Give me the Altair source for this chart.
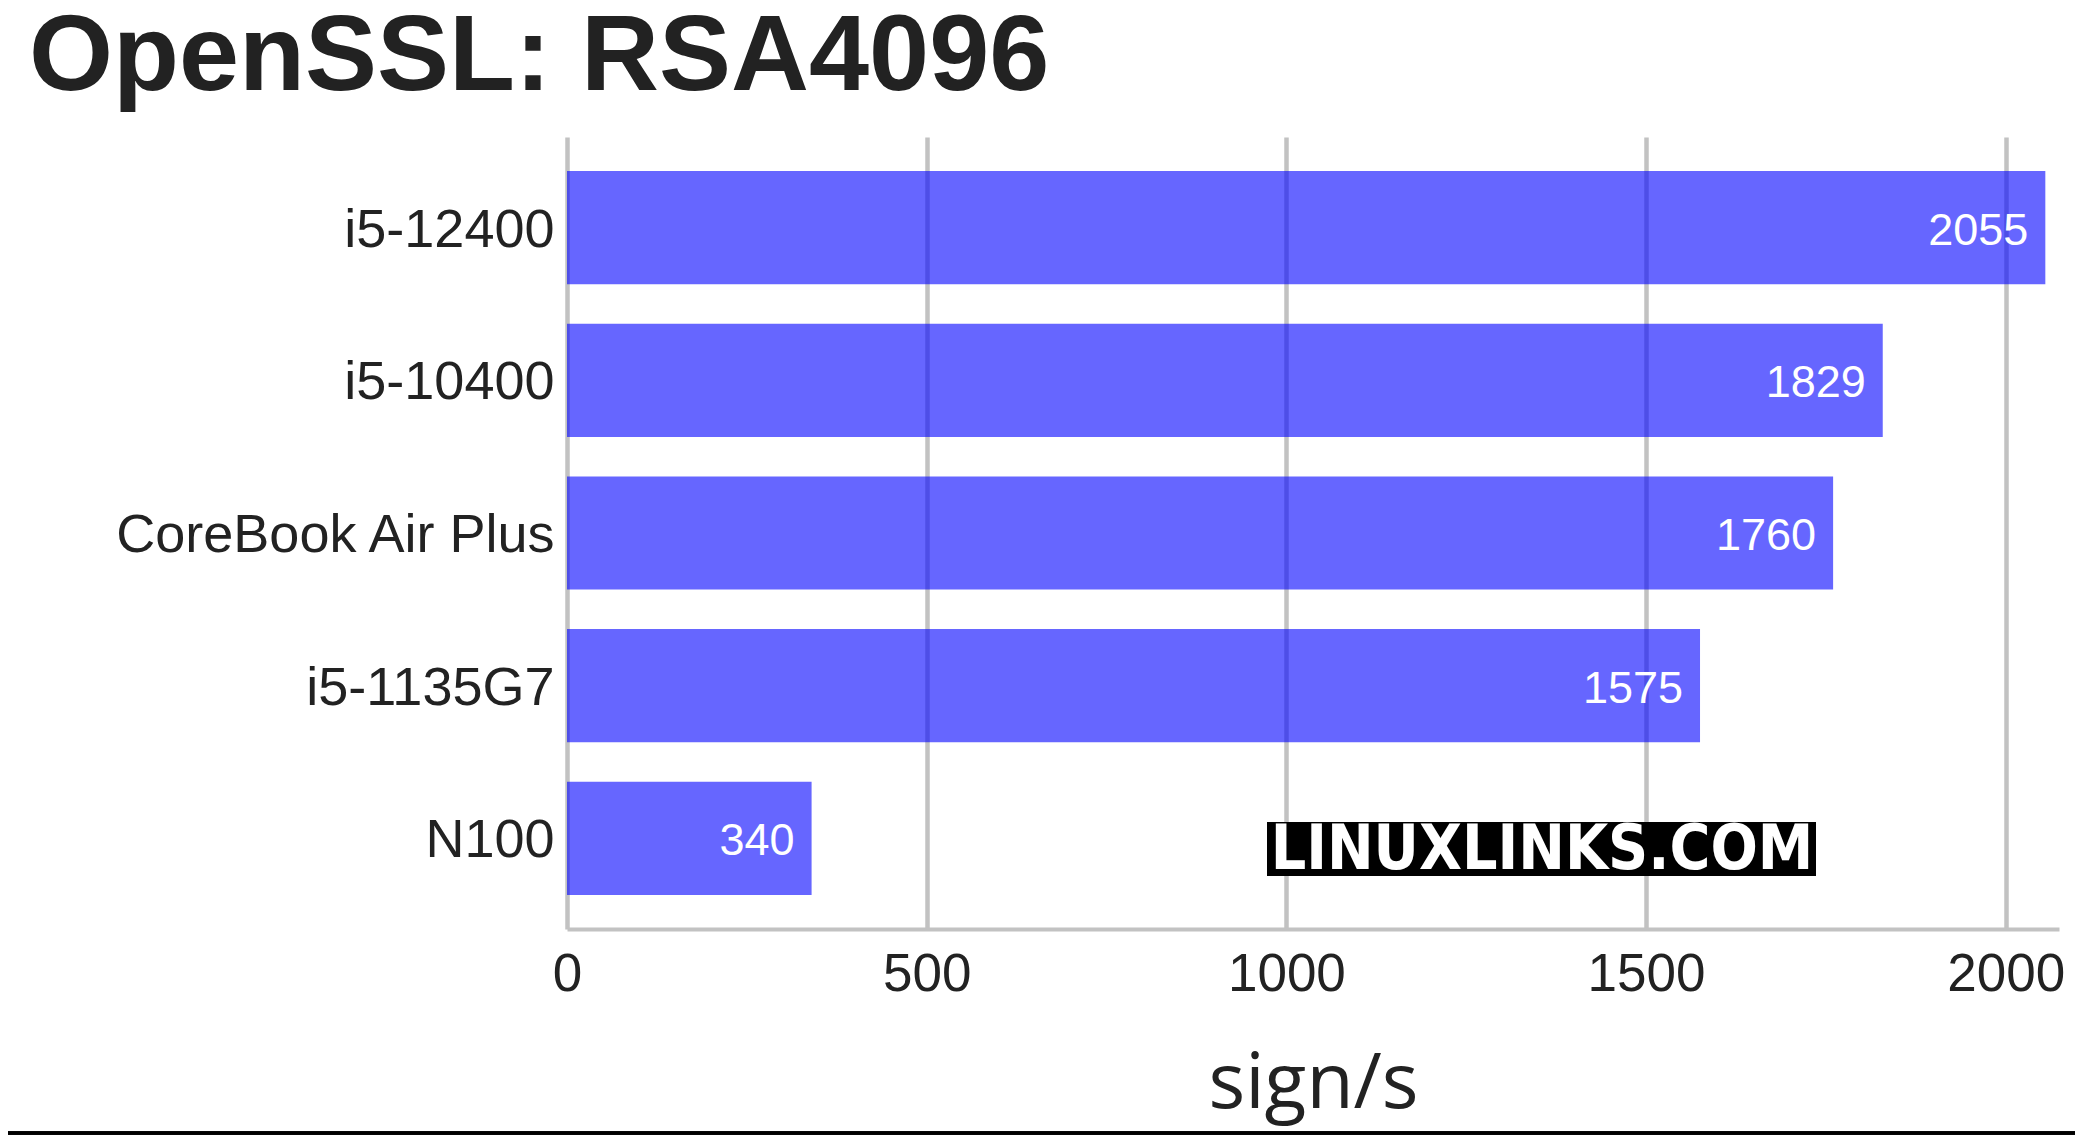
import altair as alt
import pandas as pd

cpus = ["i5-12400", "i5-10400", "CoreBook Air Plus", "i5-1135G7", "N100"]
values = [2055, 1829, 1760, 1575, 340]
x_ticks = [0, 500, 1000, 1500, 2000]

df = pd.DataFrame({"cpu": cpus, "value": values})

W, H = 1492, 792
PAD_L, PAD_T, PAD_R, PAD_B = 559, 129, 16, 206

x_enc = alt.X(
    "value:Q",
    scale=alt.Scale(domain=[0, 2074], nice=False, zero=True),
    axis=alt.Axis(
        title="sign/s",
        values=x_ticks,
        format="d",
        ticks=False,
        tickSize=0,
        labelFont="Liberation Sans",
        labelFontSize=53,
        labelColor="#222222",
        labelPadding=19,
        labelFlush=False,
        titleFont="Open Sans",
        titleFontSize=77,
        titleFontWeight="normal",
        titleColor="#222222",
        titlePadding=45,
        grid=True,
        gridColor="#c2c2c2",
        gridWidth=4.5,
        domainColor="#c2c2c2",
        domainWidth=4,
    ),
)
y_enc = alt.Y(
    "cpu:N",
    sort=cpus,
    scale=alt.Scale(paddingInner=0.259, paddingOuter=0.223),
    axis=alt.Axis(
        title=None,
        ticks=False,
        domain=False,
        grid=False,
        labelFont="Liberation Sans",
        labelFontSize=54,
        labelColor="#222222",
        labelPadding=13,
        labelOffset=3,
        labelLimit=0,
    ),
)

bars = alt.Chart(df).mark_bar(color="#0000ff", opacity=0.6).encode(x=x_enc, y=y_enc)

labels = alt.Chart(df).mark_text(
    align="right",
    baseline="middle",
    dx=-17,
    dy=3,
    font="Liberation Sans",
    fontSize=45,
    color="white",
).encode(x=x_enc, y=y_enc, text="value:Q")

wm_box = alt.Chart(df).mark_rect(color="black").encode(
    x=alt.value(700), x2=alt.value(1249), y=alt.value(685), y2=alt.value(739)
)
wm_text = alt.Chart(pd.DataFrame({"t": ["LINUXLINKS.COM"]})).mark_text(
    align="center",
    baseline="alphabetic",
    font="DejaVu Sans Condensed",
    fontWeight="bold",
    fontSize=62,
    color="white",
).encode(x=alt.value(975), y=alt.value(732), text="t:N")

bottom_rule = alt.Chart(df).mark_rule(color="black", strokeWidth=3).encode(
    x=alt.value(-PAD_L), x2=alt.value(W + PAD_R), y=alt.value(H + PAD_B - 2)
)

chart = (
    alt.layer(bars, labels, wm_box, wm_text, bottom_rule)
    .properties(
        width=W,
        height=H,
        background="white",
        padding={"left": PAD_L, "top": PAD_T, "right": PAD_R, "bottom": PAD_B},
        autosize=alt.AutoSizeParams(type="none"),
        title=alt.TitleParams(
            "OpenSSL: RSA4096",
            anchor="start",
            frame="group",
            font="Liberation Sans",
            fontSize=108,
            fontWeight="bold",
            color="#222222",
            dx=-538,
            offset=24,
        ),
    )
    .configure_view(strokeWidth=0)
)

chart.save("out.html", embed_options={"renderer": "svg", "actions": False})
